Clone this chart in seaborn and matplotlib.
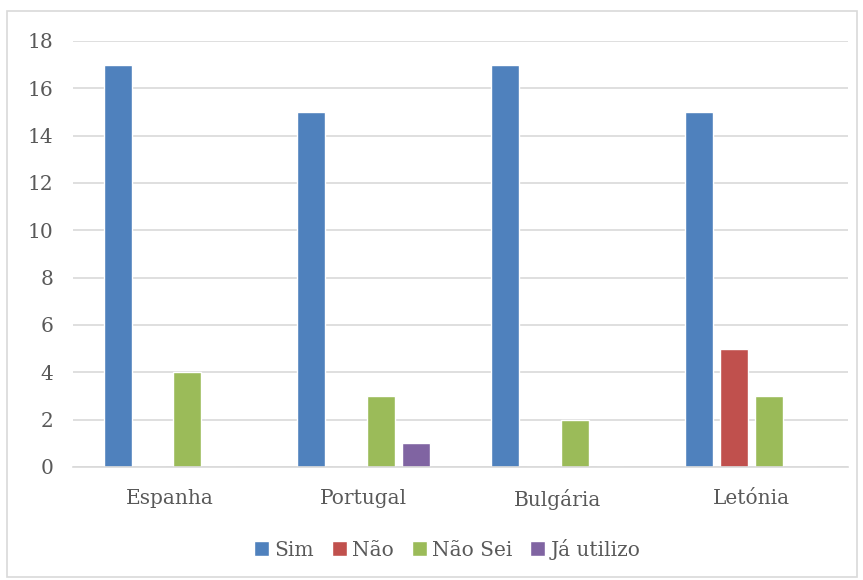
import matplotlib
matplotlib.use("Agg")
import matplotlib.pyplot as plt
import seaborn as sns
import pandas as pd
from matplotlib.patches import Rectangle

countries = ["Espanha", "Portugal", "Bulgária", "Letónia"]
series = ["Sim", "Não", "Não Sei", "Já utilizo"]
sim = [17, 15, 17, 15]
nao = [0, 0, 0, 5]
nao_sei = [4, 3, 2, 3]
ja_utilizo = [0, 1, 0, 0]
colors = ["#4F81BD", "#C0504D", "#9BBB59", "#8064A2"]

rows = []
for name, vals in zip(series, [sim, nao, nao_sei, ja_utilizo]):
    for c, v in zip(countries, vals):
        rows.append({"País": c, "Resposta": name, "Valor": v})
df = pd.DataFrame(rows)

sns.set_theme(style="white")
plt.rcParams["font.family"] = ["DejaVu Serif"]

fig = plt.figure(figsize=(8.63, 5.8), dpi=100)
ax = fig.add_axes([73/863, 1 - 467/580, (848-73)/863, (467-41)/580])

sns.barplot(data=df, x="País", y="Valor", hue="Resposta", order=countries,
            hue_order=series, palette=colors, width=0.72, gap=0.2,
            saturation=1, ax=ax, legend=True)

ax.set_ylim(0, 18)
ax.set_xlim(-0.5, 3.5)
ax.set_yticks(range(0, 19, 2))
ax.yaxis.grid(True, color="#D9D9D9", linewidth=1.2)
ax.set_axisbelow(True)
for s in ["top", "right", "left"]:
    ax.spines[s].set_visible(False)
ax.spines["bottom"].set_color("#D9D9D9")
ax.spines["bottom"].set_linewidth(1.2)
ax.tick_params(axis="both", length=0, labelsize=14.5, colors="#595959")
ax.tick_params(axis="y", pad=14)
ax.tick_params(axis="x", pad=16)
ax.set_xlabel("")
ax.set_ylabel("")

leg = ax.legend(loc="center", bbox_to_anchor=(447/863, 1 - 549/580),
                bbox_transform=fig.transFigure, ncol=4, frameon=False,
                fontsize=14.5, handlelength=0.75, handleheight=0.75,
                handletextpad=0.25, columnspacing=0.9)
for t in leg.get_texts():
    t.set_color("#595959")

fig.patches.append(Rectangle((7/863, 1 - 577/580), (857-7)/863, (577-11)/580,
                             transform=fig.transFigure, fill=False,
                             edgecolor="#D9D9D9", linewidth=1.2))

fig.savefig("out.png", dpi=100)
